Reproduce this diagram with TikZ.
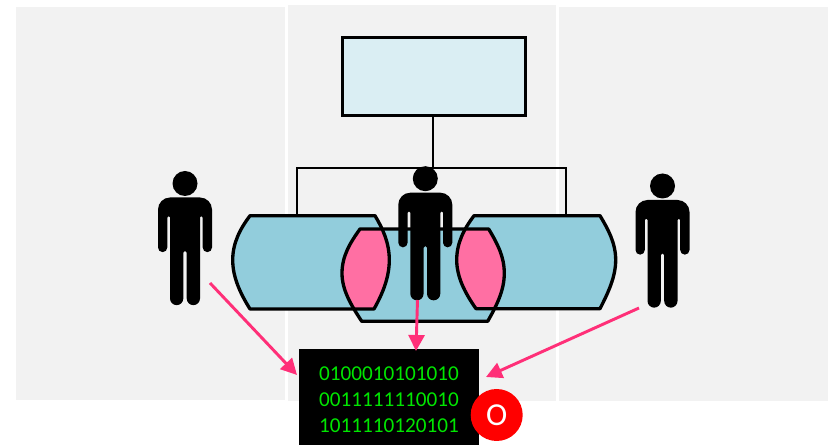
\documentclass[tikz,border=0pt]{standalone}
\usepackage{fontspec}
\setmainfont{Carlito}
\usetikzlibrary{arrows.meta}
\definecolor{panel}{HTML}{F2F2F2}
\definecolor{topfill}{HTML}{DAEEF3}
\definecolor{barrelfill}{HTML}{92CDDC}
\definecolor{overlap}{HTML}{FF6FA3}
\definecolor{arrowpink}{HTML}{FF2F78}
\definecolor{codegreen}{HTML}{00E600}
\def\barrelL{(250,215.7) -- (375,215.7) .. controls (383,229) and (389.3,243) .. (389.3,260) .. controls (389.3,277) and (383,293) .. (374,309) -- (250,309) .. controls (240,293) and (232.7,277) .. (232.7,260) .. controls (232.7,243) and (240,229) .. (250,215.7) -- cycle}
\def\barrelM{(360,229) -- (488.7,229) .. controls (497,243) and (504.3,256) .. (504.3,273.3) .. controls (504.3,290) and (497,305) .. (487.7,321.3) -- (361.7,321.3) .. controls (351,305) and (342,290) .. (342,273.3) .. controls (342,256) and (350,243) .. (360,229) -- cycle}
\def\barrelR{(474,215.7) -- (600,215.7) .. controls (608,229) and (615.7,243) .. (615.7,260) .. controls (615.7,277) and (608,293) .. (600,308.7) -- (476,308.7) .. controls (465,293) and (456.7,277) .. (456.7,260) .. controls (456.7,243) and (464,229) .. (474,215.7) -- cycle}
\tikzset{
  x=0.75pt,y=-0.75pt,
  panelbox/.style={fill=panel,draw=none},
  barrel/.style={draw=black,line width=2.5pt,line join=round},
  wire/.style={draw=black,line width=1.1pt},
  pinkarrow/.style={draw=arrowpink,line width=2.2pt,-{Triangle[length=12pt,width=12pt]}},
  person/.pic={
    \fill[black] (0,0) circle (12.5);
    \fill[black] (-15,14) -- (15,14) arc[start angle=-90,end angle=0,radius=12] -- (27,64)
      arc[start angle=0,end angle=180,radius=4.65] -- (17.7,34)
      arc[start angle=0,end angle=-180,radius=1.35] -- (15,115)
      arc[start angle=0,end angle=180,radius=6.65] -- (1.7,69)
      arc[start angle=0,end angle=-180,radius=1.7] -- (-1.7,115)
      arc[start angle=0,end angle=180,radius=6.65] -- (-15,34)
      arc[start angle=0,end angle=-180,radius=1.35] -- (-17.7,64)
      arc[start angle=0,end angle=180,radius=4.65] -- (-27,26)
      arc[start angle=180,end angle=270,radius=12] -- cycle;
  }
}
\begin{document}
\begin{tikzpicture}
\useasboundingbox (0,0) rectangle (833,445);
\fill[white] (0,0) rectangle (833,445);
\fill[panelbox] (16,7) rectangle (285,400);
\fill[panelbox] (288,5) rectangle (556,401);
\fill[panelbox] (559,7) rectangle (828,401);
% barrels
\fill[barrelfill] \barrelL;
\fill[barrelfill] \barrelR;
\fill[barrelfill] \barrelM;
\begin{scope}
  \clip \barrelM;
  \fill[overlap] \barrelL;
  \fill[overlap] \barrelR;
\end{scope}
\draw[barrel] \barrelL;
\draw[barrel] \barrelR;
\draw[barrel] \barrelM;
% top box and wires
\node[draw=black,line width=2.25pt,fill=topfill,minimum width=137.25pt,minimum height=58.5pt,inner sep=0pt,outer sep=0pt,anchor=north west] (top) at (342,37.5) {};
\coordinate (junction) at (433,168);
\coordinate (leftin) at (297,215);
\coordinate (rightin) at (566,215);
\draw[wire] (top.south -| junction) -- (junction);
\draw[wire] (leftin) |- (junction) -| (rightin);
% persons
\pic at (185,183.5) {person};
\pic at (425.3,178.7) {person};
\pic at (662.5,186) {person};
% code box
\node[fill=black,minimum width=135pt,minimum height=72pt,inner sep=0pt,outer sep=0pt,anchor=north west] (code) at (299,349) {};
\node[text=codegreen,font=\fontsize{15.9pt}{19.6pt}\selectfont,align=center,inner sep=0pt] (digits) at (389,399.6) {0100010101010\\0011111110010\\1011110120101};
% red badge
\node[circle,fill=red,minimum size=39pt,inner sep=0pt,text=white,font=\fontsize{24pt}{24pt}\selectfont] (badge) at (496.7,415) {O};
% arrows
\coordinate (a1) at (210,283);
\coordinate (a1e) at (297,375);
\coordinate (a2) at (417.5,300);
\coordinate (a2e) at (416,351);
\coordinate (a3) at (639,308);
\coordinate (a3e) at (486,377);
\draw[pinkarrow] (a1) -- (a1e);
\draw[pinkarrow] (a2) -- (a2e);
\draw[pinkarrow] (a3) -- (a3e);
\end{tikzpicture}
\end{document}
